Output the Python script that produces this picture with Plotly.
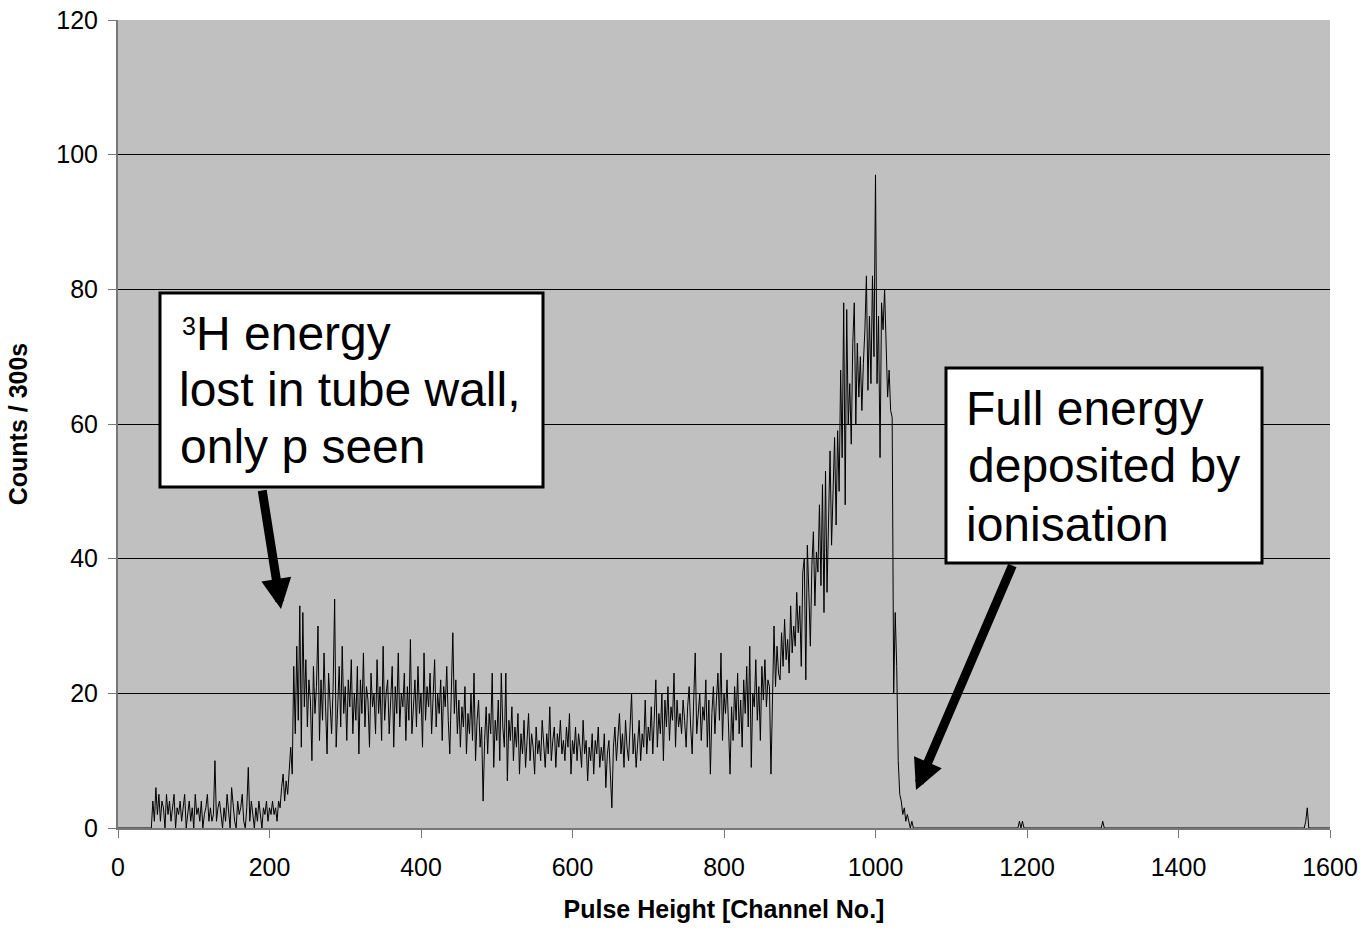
import plotly.graph_objects as go

# ---------------- data (2-channel steps) ----------------
low_start = 0
low_counts = [
    0, 0, 0, 0, 0, 0, 0, 0, 0, 0, 0, 0, 0, 0, 0, 0, 0, 0, 0, 0, 0, 0, 0,
    4, 1, 6, 2, 5, 1, 4, 3, 0, 5, 2, 4, 1, 3, 5, 0, 3, 2, 4, 1,
    3, 5, 0, 2, 4, 1, 3, 0, 5, 2, 3, 1, 4, 0, 2, 3, 5, 1, 3, 1,
    2, 10, 1, 3, 4, 2, 0, 3, 1, 5, 2, 0, 6, 3, 1, 0, 4, 2, 3, 5,
    1, 0, 3, 9, 1, 4, 2, 0, 3, 1, 4, 2, 0, 3, 2, 4, 1, 3, 2, 4,
    2, 3, 1, 4,
    3, 6, 8, 4, 7, 5, 9, 12, 8,
]

plateau_start = 232
plateau_counts = [
    24, 14, 27, 16, 33, 12, 32, 18, 25, 15, 22, 19, 10, 24, 17, 21, 30, 13, 22, 16,
    26, 18, 11, 23, 19, 14, 21, 34, 12, 20, 24, 15, 27, 17, 21, 13, 22, 18, 25, 14,
    20, 16, 24, 11, 22, 17, 26, 15, 21, 19, 12, 23, 18, 20, 14, 25, 17, 21, 13, 27,
    16, 20, 22, 14, 19, 24, 12, 21, 17, 26, 15, 20, 18, 23, 13, 21, 16, 28, 14, 19,
    22, 15, 24, 17, 20, 12, 26, 16, 21, 18, 23, 14, 19, 25, 15, 20, 17, 22, 13, 21,
    18, 24, 16, 11, 20, 29, 17, 22, 14, 19,
]

valley_start = 452
valley_counts = [
    12, 18, 15, 21, 11, 17, 14, 20, 13, 23, 10, 16, 19, 12, 15, 4, 13, 18, 11, 17,
    14, 23, 9, 16, 13, 19, 10, 23, 15, 12, 23, 7, 16, 13, 18, 10, 15, 12, 17, 8,
    14, 11, 16, 9, 13, 17, 10, 14, 12, 8, 15, 11, 13, 10, 16, 12, 9, 14, 11, 18,
    10, 13, 15, 9, 14, 12, 16, 11, 13, 10, 15, 12, 17, 8, 13, 11, 15, 10, 14, 12,
    9, 16, 11, 13, 7, 12, 10, 14, 8, 13, 11, 15, 9, 12, 10, 14, 6, 11, 13, 8,
    3, 12, 15, 10, 13, 17, 11, 14, 9, 16, 12, 10, 15, 20, 11, 14, 9, 13, 16, 10,
    14, 12, 19, 11, 15,
]

shoulder_start = 702
shoulder_counts = [
    13, 18, 11, 16, 22, 12, 17, 14, 20, 10, 19, 15, 21, 13, 18, 16, 23, 12, 19, 15,
    17, 14, 19, 16, 12, 18, 21, 15, 11, 19, 26, 14, 17, 20, 13, 18, 16, 22, 12, 19,
    8, 17, 21, 14, 19, 23, 16, 26, 13, 20, 17, 22, 15, 8, 18, 13, 21, 16, 23, 14,
    19, 12, 22, 17, 24, 15, 27, 9, 20, 18, 25, 16, 21, 13, 24, 19, 25, 18, 22, 21,
]

peak_start = 862
peak_counts = [
    8, 22, 30, 21, 27, 23, 22, 29, 24, 31, 25, 28, 23, 33, 26, 30, 27, 35, 29, 33,
    24, 38, 40, 22, 42, 35, 27, 39, 44, 33, 41, 38, 48, 36, 51, 32, 53, 35, 47, 56,
    42, 52, 58, 45, 59, 50, 68, 55, 78, 48, 77, 60, 66, 57, 72, 78, 60, 72, 64, 70,
    62, 69, 74, 82, 65, 76, 66, 82, 70, 97, 66, 76, 55, 78, 74, 80, 70, 64, 68, 62,
    61, 20, 32, 24, 10, 5, 4, 2, 3, 1, 2, 1, 0, 1, 0,
]

tail_channels = [1052, 1188, 1190, 1192, 1194, 1196, 1298, 1300, 1302, 1566, 1568, 1570, 1572, 1600]
tail_counts = [0, 0, 1, 0, 1, 0, 0, 1, 0, 0, 1, 3, 0, 0]

x_ticks = [0, 200, 400, 600, 800, 1000, 1200, 1400, 1600]
y_ticks = [0, 20, 40, 60, 80, 100, 120]

box1_lines = ["H energy", "lost in tube wall,", "only p seen"]
box2_lines = ["Full energy", "deposited by", "ionisation"]

# ---------------- assemble series ----------------
channels, counts = [], []
for start, vals in [(low_start, low_counts), (plateau_start, plateau_counts),
                    (valley_start, valley_counts), (shoulder_start, shoulder_counts),
                    (peak_start, peak_counts)]:
    channels += [start + 2 * i for i in range(len(vals))]
    counts += vals
channels += tail_channels
counts += tail_counts

# ---------------- figure ----------------
W, H = 1364, 931
L, R, T, B = 118, 1330, 20, 828
FONT = "Arial, Liberation Sans, sans-serif"


def px_x(p):
    return (p - L) / (R - L)


def px_y(p):
    return (B - p) / (B - T)


fig = go.Figure()
fig.add_trace(go.Scatter(x=channels, y=counts, mode="lines",
                         line=dict(color="black", width=1), showlegend=False,
                         hoverinfo="x+y"))

axis_common = dict(showline=True, linecolor="#777777", linewidth=2,
                   ticks="outside", ticklen=8, tickwidth=1, tickcolor="#777777",
                   tickfont=dict(family=FONT, size=25, color="black"),
                   zeroline=False, automargin=False, ticklabeloverflow="allow")

fig.update_xaxes(range=[0, 1600], tickvals=x_ticks, showgrid=False,
                 title=dict(text="Pulse Height [Channel No.]",
                            font=dict(family=FONT, size=25, color="black", weight=700),
                            standoff=20),
                 ticklabelstandoff=8, **axis_common)
fig.update_yaxes(range=[0, 120], tickvals=y_ticks, showgrid=True,
                 gridcolor="black", gridwidth=1,
                 title=dict(text="Counts / 300s",
                            font=dict(family=FONT, size=25, color="black", weight=700),
                            standoff=22),
                 ticklabelstandoff=5, **axis_common)

shapes = []
annotations = []

# boxes
for (x0, y0, x1, y1) in [(160, 293, 543, 487), (946, 368, 1262, 563)]:
    shapes.append(dict(type="rect", xref="paper", yref="paper",
                       x0=px_x(x0), x1=px_x(x1), y0=px_y(y1), y1=px_y(y0),
                       line=dict(color="black", width=3), fillcolor="white",
                       layer="above"))


def text_ann(txt, xp, yp, size=48):
    return dict(text=txt, xref="paper", yref="paper", x=px_x(xp), y=px_y(yp),
                xanchor="left", yanchor="middle", showarrow=False,
                borderpad=0, borderwidth=0,
                font=dict(family=FONT, size=size, color="black"))


annotations.append(text_ann("3", 182, 326, size=25))
annotations.append(text_ann(box1_lines[0], 196, 333.4))
annotations.append(text_ann(box1_lines[1], 179, 389.4))
annotations.append(text_ann(box1_lines[2], 180, 446.7))
annotations.append(text_ann(box2_lines[0], 965.5, 408.4))
annotations.append(text_ann(box2_lines[1], 967.5, 465.1))
annotations.append(text_ann(box2_lines[2], 966, 524.4))

# arrows
for (tipx, tipy, tailx, taily) in [(281, 609, 262, 489), (916, 790, 1013, 564)]:
    annotations.append(dict(text="", xref="paper", yref="paper",
                            x=px_x(tipx), y=px_y(tipy),
                            ax=tailx - tipx, ay=taily - tipy,
                            showarrow=True, arrowhead=2, arrowsize=0.67,
                            arrowwidth=9, arrowcolor="black", standoff=0))

fig.update_layout(width=W, height=H,
                  margin=dict(l=L, r=W - R, t=T, b=H - B),
                  paper_bgcolor="white", plot_bgcolor="#C0C0C0",
                  shapes=shapes, annotations=annotations,
                  font=dict(family=FONT, color="black"))

fig.write_html("out.html",
               config={"displayModeBar": False},
               post_script="document.body.style.margin='0';"
                           "document.body.style.overflow='hidden';")
